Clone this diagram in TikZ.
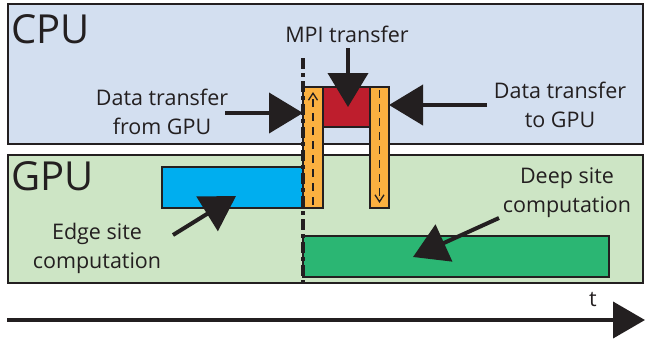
\documentclass[tikz,border=0pt]{standalone}
\usepackage{fontspec}
\setmainfont{Open Sans}
\usetikzlibrary{arrows.meta,calc}
\definecolor{ink}{HTML}{231F20}
\definecolor{cpufill}{HTML}{D3DFF0}
\definecolor{gpufill}{HTML}{CDE5C5}
\definecolor{bluebar}{HTML}{00AEEF}
\definecolor{orangebar}{HTML}{FBB040}
\definecolor{redbar}{HTML}{BE1E2D}
\definecolor{greenbar}{HTML}{2BB673}
\tikzset{
  panel/.style={draw=ink, line width=2pt, anchor=north west, inner sep=0pt, outer sep=0pt},
  bar/.style={draw=ink, line width=1.5pt, anchor=north west, inner sep=0pt, outer sep=0pt},
  bigarrow/.style={draw=ink, line width=4pt, -{Triangle[length=34pt,width=40pt]}},
  flowarrow/.style={draw=ink, line width=1.3pt, dash pattern=on 8pt off 6pt, -{Straight Barb[length=7pt,width=9pt,line width=1.3pt]}},
  separator/.style={draw=ink, line width=3.2pt, dash pattern=on 11pt off 4pt on 4pt off 4pt},
  label/.style={text=ink, font=\fontsize{21.5}{29}\selectfont, align=center, inner sep=0pt},
  title/.style={text=ink, font=\fontsize{40}{44}\selectfont, anchor=north west, inner sep=0pt},
}
\begin{document}
\begin{tikzpicture}[x=1pt,y=-1pt]
\useasboundingbox (0,0) rectangle (645,338);
% panels
\node[panel, fill=cpufill, minimum width=635pt, minimum height=140pt] (cpu) at (8,4) {};
\node[panel, fill=gpufill, minimum width=635pt, minimum height=128pt] (gpu) at (8,155) {};
\node[title] (cputitle) at (11,14) {CPU};
\node[title] (gputitle) at (11,161) {GPU};
% bars
\node[bar, fill=bluebar, minimum width=141pt, minimum height=41pt] (blue) at (162,167) {};
\node[bar, fill=greenbar, minimum width=306pt, minimum height=41pt] (green) at (303,236) {};
\node[bar, fill=redbar, minimum width=47pt, minimum height=40pt] (red) at (323,87) {};
\node[bar, fill=orangebar, minimum width=20pt, minimum height=121pt] (ol) at (303,87) {};
\node[bar, fill=orangebar, minimum width=19pt, minimum height=121pt] (or) at (370,87) {};
% flow arrows inside orange bars
\draw[flowarrow] ($(ol.south)+(0,-3)$) -- ($(ol.north)+(0,5)$);
\draw[flowarrow] ($(or.north)+(0,3)$) -- ($(or.south)+(0,-5)$);
% dash-dot separator (drawn over the bars)
\coordinate (sepTop) at (303,58);
\path[separator] (sepTop) -- (sepTop |- gpu.south);
% labels
\node[label] (mpi) at (347,34) {MPI transfer};
\node[label] (fromgpu) at (162,112) {Data transfer\\from GPU};
\node[label] (togpu) at (560,105) {Data transfer\\to GPU};
\node[label] (edge) at (97,248) {Edge site\\computation};
\node[label] (deep) at (567,193) {Deep site\\computation};
\node[label, anchor=center] (tlab) at (593,300) {t};
% big arrows
\coordinate (mpiTail) at (348,48);
\draw[bigarrow] (mpiTail) -- (mpiTail |- red.center);
\coordinate (fromTail) at (225,113);
\draw[bigarrow] (fromTail) -- (ol.north west |- fromTail);
\coordinate (toTail) at (487,105);
\draw[bigarrow] (toTail) -- (or.north east |- toTail);
\coordinate (edgeTail) at (173,235);
\coordinate (edgeTip) at (236,196);
\draw[bigarrow] (edgeTail) -- (edgeTip);
\coordinate (deepTail) at (499,218);
\coordinate (deepTip) at (413,257);
\draw[bigarrow] (deepTail) -- (deepTip);
% time axis
\coordinate (tStart) at (7,320);
\coordinate (tEnd) at (645,320);
\draw[draw=ink, line width=4pt, -{Triangle[length=32pt,width=36pt]}] (tStart) -- (tEnd);
\end{tikzpicture}
\end{document}
